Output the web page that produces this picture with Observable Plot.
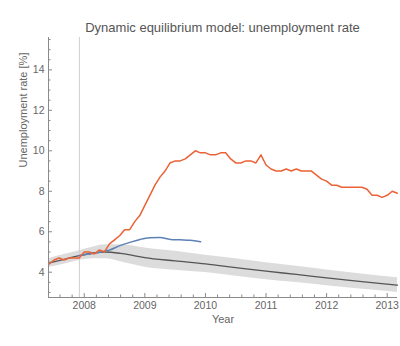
<!DOCTYPE html>
<html><head><meta charset="utf-8">
<script src="https://cdn.jsdelivr.net/npm/d3@7"></script>
<script src="https://cdn.jsdelivr.net/npm/@observablehq/plot@0.6"></script>
<style>
body{margin:0;background:#fff;font-family:"Liberation Sans",Arial,sans-serif;}
#title{height:37px;box-sizing:border-box;padding-top:20px;line-height:16px;font-size:13px;color:#555;text-align:center;width:349px;margin-left:48px;white-space:nowrap;}
</style></head><body>
<div id="title">Dynamic equilibrium model: unemployment rate</div>
<div id="chart"></div>
<script>
// Actual unemployment rate (monthly, May 2007 .. Feb 2013), %
const unempStartYear = 2007, unempStartMonth = 5;
const unempValues = [
  4.4, 4.6, 4.7, 4.6, 4.7, 4.7, 4.7, 5.0,
  5.0, 4.9, 5.1, 5.0, 5.4, 5.6, 5.8, 6.1, 6.1, 6.5, 6.8, 7.3,
  7.8, 8.3, 8.7, 9.0, 9.4, 9.5, 9.5, 9.6, 9.8, 10.0, 9.9, 9.9,
  9.8, 9.8, 9.9, 9.9, 9.6, 9.4, 9.4, 9.5, 9.5, 9.4, 9.8, 9.3,
  9.1, 9.0, 9.0, 9.1, 9.0, 9.1, 9.0, 9.0, 9.0, 8.8, 8.6, 8.5,
  8.3, 8.3, 8.2, 8.2, 8.2, 8.2, 8.2, 8.1, 7.8, 7.8, 7.7, 7.8,
  8.0, 7.9
];
// Blue series
const blueX = [2007.92, 2008.08, 2008.25, 2008.42, 2008.58, 2008.75, 2008.92, 2009.08, 2009.25, 2009.42, 2009.58, 2009.75, 2009.92];
const blueY = [4.83, 4.90, 4.98, 5.10, 5.30, 5.47, 5.62, 5.70, 5.71, 5.62, 5.60, 5.58, 5.50];
// Dynamic equilibrium model with error band
const modelX  = [2007.41, 2007.7, 2007.92, 2008.15, 2008.35, 2008.6, 2008.8, 2009.0, 2009.5, 2010.0, 2010.5, 2011.0, 2011.5, 2012.0, 2012.5, 2013.17];
const modelY  = [4.45, 4.66, 4.82, 4.95, 5.00, 4.93, 4.83, 4.72, 4.56, 4.41, 4.23, 4.05, 3.89, 3.72, 3.56, 3.36];
const modelHi = [4.67, 4.90, 5.06, 5.25, 5.36, 5.36, 5.30, 5.20, 5.03, 4.84, 4.66, 4.47, 4.29, 4.11, 3.94, 3.73];
const modelLo = [4.23, 4.42, 4.58, 4.66, 4.66, 4.52, 4.38, 4.25, 4.10, 3.98, 3.80, 3.63, 3.49, 3.33, 3.18, 3.00];
const recessionStart = 2007.92;
// Axes
const xDomain = [2007.41, 2013.17];
const yDomain = [2.75, 15.6];
const xTickLabels = [2008, 2009, 2010, 2011, 2012, 2013];
const yTickLabels = [4, 6, 8, 10, 12, 14];
const xLabel = "Year";
const yLabel = "Unemployment rate [%]";

const unemp = unempValues.map((v, i) => ({x: unempStartYear + (unempStartMonth + i) / 12, y: v}));
const blue = blueX.map((x, i) => ({x, y: blueY[i]}));
const model = modelX.map((x, i) => ({x, y: modelY[i], lo: modelLo[i], hi: modelHi[i]}));

const W = 400, H = 309, mL = 48, mR = 3, mT = 0, mB = 49;
const plotW = W - mL - mR, plotH = H - mT - mB;
const xMinor = d3.range(2007.6, 2013.1, 0.2).map(v => Math.round(v * 10) / 10).filter(v => Math.abs(v - Math.round(v)) > 1e-6);
const yMinor = d3.range(3, 15.6, 0.5).filter(v => v % 2 !== 0);
const axisColor = "#8a8a8a";

const chart = Plot.plot({
  width: W, height: H,
  marginLeft: mL, marginRight: mR, marginTop: mT, marginBottom: mB,
  style: {fontFamily: '"Liberation Sans", Arial, sans-serif', fontSize: "10.5px", color: "#666", background: "#fff"},
  x: {domain: xDomain, axis: null},
  y: {domain: yDomain, axis: null},
  marks: [
    Plot.areaY(model, {x: "x", y1: "lo", y2: "hi", fill: "#dcdcdc", curve: "monotone-x"}),
    Plot.ruleX([recessionStart], {stroke: "#cfcfcf", strokeWidth: 1}),
    Plot.lineY(model, {x: "x", y: "y", stroke: "#555", strokeWidth: 1.3, curve: "monotone-x"}),
    Plot.line(blue, {x: "x", y: "y", stroke: "#5E81B5", strokeWidth: 1.5, curve: "monotone-x"}),
    Plot.line(unemp, {x: "x", y: "y", stroke: "#EB6235", strokeWidth: 1.5}),
    Plot.ruleY([yDomain[0]], {stroke: axisColor}),
    Plot.ruleX([xDomain[0]], {stroke: axisColor}),
    Plot.tickX(xTickLabels, {x: d => d, insetTop: plotH - 4, stroke: axisColor}),
    Plot.tickX(xMinor, {x: d => d, insetTop: plotH - 2.5, stroke: axisColor}),
    Plot.tickY(yTickLabels, {y: d => d, insetRight: plotW - 4, stroke: axisColor}),
    Plot.tickY(yMinor, {y: d => d, insetRight: plotW - 2.5, stroke: axisColor}),
    Plot.axisX(xTickLabels, {tickSize: 0, tickPadding: 4, tickFormat: d => String(d), label: null, fontSize: 10.5}),
    Plot.axisY(yTickLabels, {tickSize: 0, tickPadding: 4, tickFormat: d => String(d), label: null, fontSize: 10.5}),
    Plot.text([xLabel], {frameAnchor: "bottom", dy: 25, text: d => d, fill: "#666", fontSize: 11}),
    Plot.text([yLabel], {frameAnchor: "left", dx: -25, rotate: -90, text: d => d, fill: "#666", fontSize: 11})
  ]
});
document.getElementById("chart").appendChild(chart);
</script></body></html>
